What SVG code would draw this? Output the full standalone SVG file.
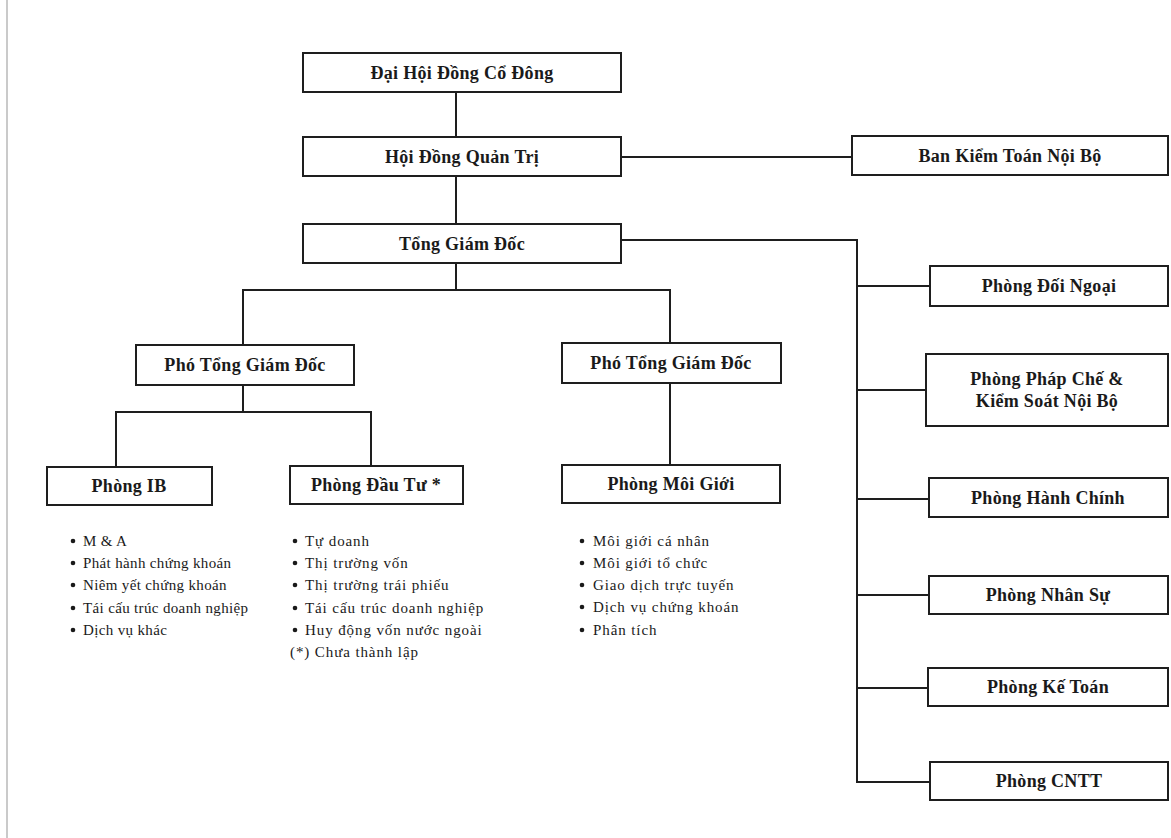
<svg xmlns="http://www.w3.org/2000/svg" width="1171" height="838" viewBox="0 0 1171 838">
<style>
.box{fill:#fff;stroke:#1e1e1e;stroke-width:2}
.t{font-family:"Liberation Serif","Times New Roman",serif;font-weight:bold;font-size:18px;letter-spacing:0.3px;fill:#1a1a1a;text-anchor:middle}
.b{font-family:"Liberation Serif","Times New Roman",serif;font-size:15px;letter-spacing:0.9px;fill:#1a1a1a}
.bi{letter-spacing:0.35px}
.c{fill:none;stroke:#1e1e1e;stroke-width:2}
.dot{fill:#1a1a1a}
</style>
<rect width="1171" height="838" fill="#fff"/>
<line x1="7" y1="0" x2="7" y2="838" stroke="#b8b8b8" stroke-width="1.5"/>
<g id="connectors">
<path class="c" d="M456 92V137"/>
<path class="c" d="M456 176V224"/>
<path class="c" d="M621 157H852"/>
<path class="c" d="M456 263V290"/>
<path class="c" d="M243 345V290H670V343"/>
<path class="c" d="M243 385V412"/>
<path class="c" d="M116 467V412H371V466"/>
<path class="c" d="M670 383V465"/>
<path class="c" d="M621 240H857V782H930"/>
<path class="c" d="M857 286H930"/>
<path class="c" d="M857 390H926"/>
<path class="c" d="M857 499H929"/>
<path class="c" d="M857 595H929"/>
<path class="c" d="M857 688H928"/>
</g>
<g id="n_dhcd"><rect class="box" x="303" y="53" width="318" height="39"/><text class="t" x="462" y="79">Đại Hội Đồng Cổ Đông</text></g>
<g id="n_hdqt"><rect class="box" x="303" y="137" width="318" height="39"/><text class="t" x="462" y="163">Hội Đồng Quản Trị</text></g>
<g id="n_bkt"><rect class="box" x="852" y="136" width="316" height="39"/><text class="t" x="1010" y="162">Ban Kiểm Toán Nội Bộ</text></g>
<g id="n_tgd"><rect class="box" x="303" y="224" width="318" height="39"/><text class="t" x="462" y="250">Tổng Giám Đốc</text></g>
<g id="n_ptgd1"><rect class="box" x="136" y="345" width="218" height="40"/><text class="t" x="245" y="371">Phó Tổng Giám Đốc</text></g>
<g id="n_ptgd2"><rect class="box" x="562" y="343" width="219" height="40"/><text class="t" x="671" y="369">Phó Tổng Giám Đốc</text></g>
<g id="n_ib"><rect class="box" x="47" y="467" width="165" height="38"/><text class="t" x="129" y="492">Phòng IB</text></g>
<g id="n_dautu"><rect class="box" x="290" y="466" width="173" height="38"/><text class="t" x="376" y="491">Phòng Đầu Tư *</text></g>
<g id="n_moigioi"><rect class="box" x="562" y="465" width="218" height="38"/><text class="t" x="671" y="490">Phòng Môi Giới</text></g>
<g id="n_doingoai"><rect class="box" x="930" y="266" width="238" height="40"/><text class="t" x="1049" y="292">Phòng Đối Ngoại</text></g>
<g id="n_phapche"><rect class="box" x="926" y="354" width="242" height="72"/><text class="t" x="1047" y="385">Phòng Pháp Chế &amp;</text><text class="t" x="1047" y="407">Kiểm Soát Nội Bộ</text></g>
<g id="n_hanhchinh"><rect class="box" x="929" y="478" width="239" height="39"/><text class="t" x="1048" y="504">Phòng Hành Chính</text></g>
<g id="n_nhansu"><rect class="box" x="929" y="576" width="239" height="38"/><text class="t" x="1048" y="601">Phòng Nhân Sự</text></g>
<g id="n_ketoan"><rect class="box" x="928" y="668" width="240" height="38"/><text class="t" x="1048" y="693">Phòng Kế Toán</text></g>
<g id="n_cntt"><rect class="box" x="930" y="762" width="238" height="38"/><text class="t" x="1049" y="787">Phòng CNTT</text></g>
<g id="list_ib">
<circle class="dot" cx="73" cy="541" r="2.3"/><text class="b bi" x="83" y="546">M &amp; A</text>
<circle class="dot" cx="73" cy="563" r="2.3"/><text class="b bi" x="83" y="568">Phát hành chứng khoán</text>
<circle class="dot" cx="73" cy="585" r="2.3"/><text class="b bi" x="83" y="590">Niêm yết chứng khoán</text>
<circle class="dot" cx="73" cy="608" r="2.3"/><text class="b bi" x="83" y="613">Tái cấu trúc doanh nghiệp</text>
<circle class="dot" cx="73" cy="630" r="2.3"/><text class="b bi" x="83" y="635">Dịch vụ khác</text>
</g>
<g id="list_dautu">
<circle class="dot" cx="295" cy="541" r="2.3"/><text class="b" x="305" y="546">Tự doanh</text>
<circle class="dot" cx="295" cy="563" r="2.3"/><text class="b" x="305" y="568">Thị trường vốn</text>
<circle class="dot" cx="295" cy="585" r="2.3"/><text class="b" x="305" y="590">Thị trường trái phiếu</text>
<circle class="dot" cx="295" cy="608" r="2.3"/><text class="b" x="305" y="613">Tái cấu trúc doanh nghiệp</text>
<circle class="dot" cx="295" cy="630" r="2.3"/><text class="b" x="305" y="635">Huy động vốn nước ngoài</text>
<text class="b" x="290" y="657">(*) Chưa thành lập</text>
</g>
<g id="list_moigioi">
<circle class="dot" cx="582" cy="541" r="2.3"/><text class="b" x="593" y="546">Môi giới cá nhân</text>
<circle class="dot" cx="582" cy="563" r="2.3"/><text class="b" x="593" y="568">Môi giới tổ chức</text>
<circle class="dot" cx="582" cy="585" r="2.3"/><text class="b" x="593" y="590">Giao dịch trực tuyến</text>
<circle class="dot" cx="582" cy="607" r="2.3"/><text class="b" x="593" y="612">Dịch vụ chứng khoán</text>
<circle class="dot" cx="582" cy="630" r="2.3"/><text class="b" x="593" y="635">Phân tích</text>
</g>
</svg>
